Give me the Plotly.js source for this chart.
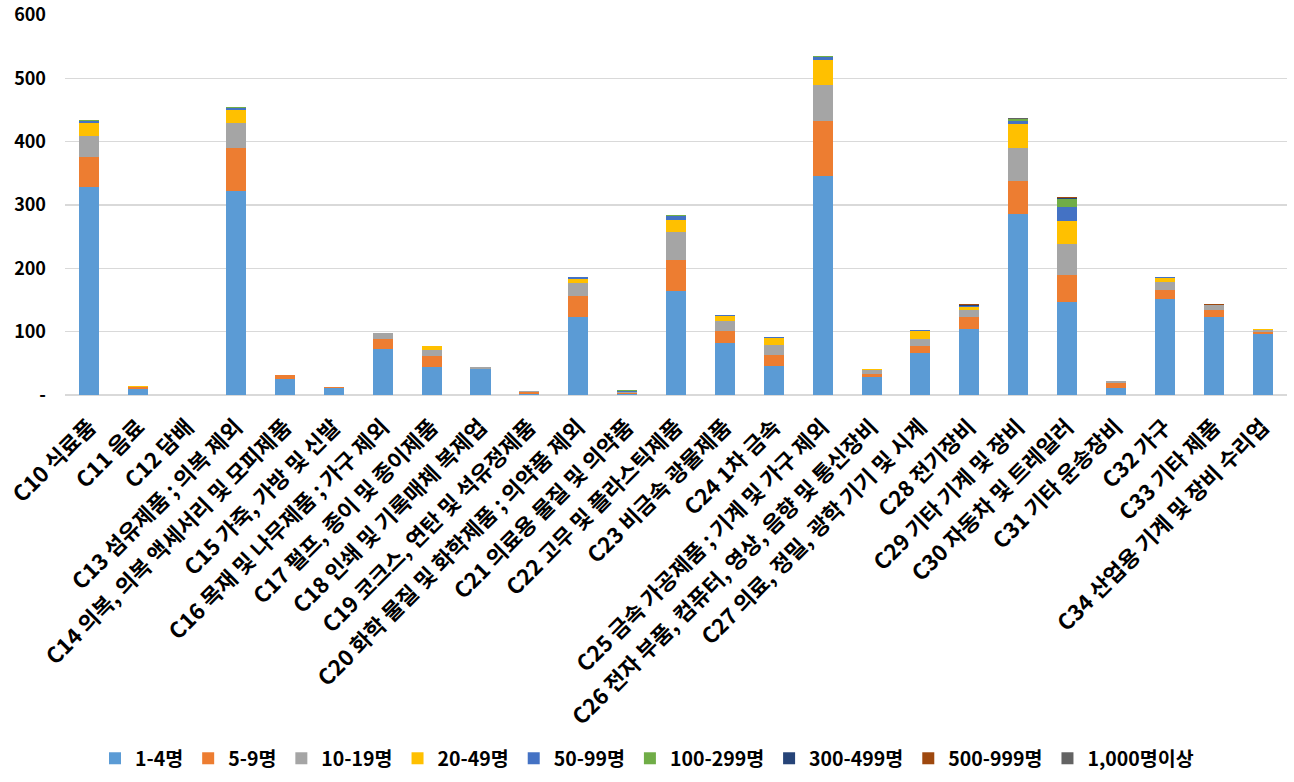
<!DOCTYPE html>
<html>
<head>
<meta charset="utf-8">
<script src="https://cdn.plot.ly/plotly-3.0.1.min.js"></script>
<style>html,body{margin:0;padding:0;background:#fff;}#chart{width:1294px;height:782px;}</style>
</head>
<body>
<div id="chart"></div>
<script>
const categories = [
  "C10 식료품","C11 음료","C12 담배","C13 섬유제품 ; 의복 제외",
  "C14 의복, 의복 액세서리 및 모피제품","C15 가죽, 가방 및 신발",
  "C16 목재 및 나무제품 ; 가구 제외","C17 펄프, 종이 및 종이제품",
  "C18 인쇄 및 기록매체 복제업","C19 코크스, 연탄 및 석유정제품",
  "C20 화학 물질 및 화학제품 ; 의약품 제외","C21 의료용 물질 및 의약품",
  "C22 고무 및 플라스틱제품","C23 비금속 광물제품","C24 1차 금속",
  "C25 금속 가공제품 ; 기계 및 가구 제외","C26 전자 부품, 컴퓨터, 영상, 음향 및 통신장비",
  "C27 의료, 정밀, 광학 기기 및 시계","C28 전기장비","C29 기타 기계 및 장비",
  "C30 자동차 및 트레일러","C31 기타 운송장비","C32 가구","C33 기타 제품",
  "C34 산업용 기계 및 장비 수리업"
];
const seriesNames = ["1-4명","5-9명","10-19명","20-49명","50-99명","100-299명","300-499명","500-999명","1,000명이상"];
const s1_4      = [329, 9, 0, 322, 25, 11, 72, 44, 41, 2, 123, 2, 164, 82, 46, 346, 28, 66, 104, 286, 147, 11, 152, 123, 96];
const s5_9      = [47.5, 3, 0, 67.5, 6, 1, 16.5, 17.5, 0.5, 3, 33.5, 1.5, 49, 19, 17, 86.5, 5, 11, 19, 52, 42.5, 8, 14, 11, 3];
const s10_19    = [33, 1, 0, 40, 0.5, 1, 9.5, 9.5, 3, 1.5, 20, 0.5, 44, 16, 16, 57, 6, 11, 11.5, 52, 49, 3, 12.5, 8, 4];
const s20_49    = [20.5, 1.5, 0, 20, 0, 0, 0, 6.5, 0, 0, 6.5, 1.5, 19, 8, 11, 39.5, 1.5, 12.5, 4.5, 38, 36.5, 0, 6.5, 0.5, 2];
const s50_99    = [2, 0, 0, 3, 0.5, 0, 0, 0, 0, 0, 3, 0.5, 6, 1.5, 1.5, 4.5, 0, 1.5, 1, 4.5, 22, 0, 1.5, 0, 0];
const s100_299  = [2.5, 0, 0, 3, 0, 0, 0, 0, 0, 0, 0, 2, 3, 0, 0, 2, 0, 0, 0.5, 3, 12.5, 0, 0, 0, 0];
const s300_499  = [0, 0, 0, 0, 0, 0, 0, 0, 0, 0, 0, 0, 0, 0, 0, 0, 0, 0, 1, 0, 1.5, 0, 0, 0, 0];
const s500_999  = [0, 0, 0, 0, 0, 0, 0, 0, 0, 0, 0, 0, 0, 0, 0, 0, 0, 0, 1.5, 0, 1.5, 0, 0, 1.5, 0];
const s1000plus = [0, 0, 0, 0, 0, 0, 0, 0, 0, 0, 0, 0, 0, 0, 0, 0, 0, 0, 0, 1.5, 0, 0, 0, 0, 0];
const yTickVals = [0, 100, 200, 300, 400, 500, 600];
const yTickText = ["-", "100", "200", "300", "400", "500", "600"];

const allSeries = [s1_4, s5_9, s10_19, s20_49, s50_99, s100_299, s300_499, s500_999, s1000plus];
const colors = ["#5B9BD5","#ED7D31","#A5A5A5","#FFC000","#4472C4","#70AD47","#264478","#9E480E","#636363"];
const FONT = "'Noto Sans CJK KR', 'Malgun Gothic', sans-serif";

const traces = allSeries.map((vals, i) => ({
  type: "bar",
  name: seriesNames[i],
  x: categories,
  y: vals,
  marker: {color: colors[i], line: {width: 0}},
  hoverinfo: "x+y+name"
}));

const layout = {
  width: 1294, height: 782,
  barmode: "stack",
  bargap: 0.59,
  margin: {l: 65, r: 7, t: 15, b: 387},
  paper_bgcolor: "#fff", plot_bgcolor: "#fff",
  font: {family: FONT, color: "#000"},
  xaxis: {
    type: "category",
    tickangle: -45,
    tickfont: {family: FONT, size: 22, color: "#000", weight: "bold"},
    ticklabelstandoff: 14,
    showgrid: false,
    showline: false,
    ticks: "",
    automargin: false
  },
  yaxis: {
    range: [0, 600],
    tickvals: yTickVals,
    ticktext: yTickText.map(t => t + "\u2002\u2002"),
    tickfont: {family: FONT, size: 18, color: "#000", weight: "bold"},
    showgrid: true,
    gridcolor: "#D9D9D9",
    gridwidth: 1.3,
    zeroline: true,
    zerolinecolor: "#D9D9D9",
    zerolinewidth: 1.3,
    showline: false,
    ticks: "",
    automargin: false
  },
  legend: {
    orientation: "h",
    xref: "container", yref: "container",
    x: 0.5, xanchor: "center",
    y: 0.005, yanchor: "bottom",
    font: {family: FONT, size: 19.5, color: "#000", weight: "bold"},
    traceorder: "normal",
    itemwidth: 30,
    entrywidth: 0
  },
  showlegend: true
};

Plotly.newPlot("chart", traces, layout, {displayModeBar: false, staticPlot: true});
</script>
</body>
</html>
